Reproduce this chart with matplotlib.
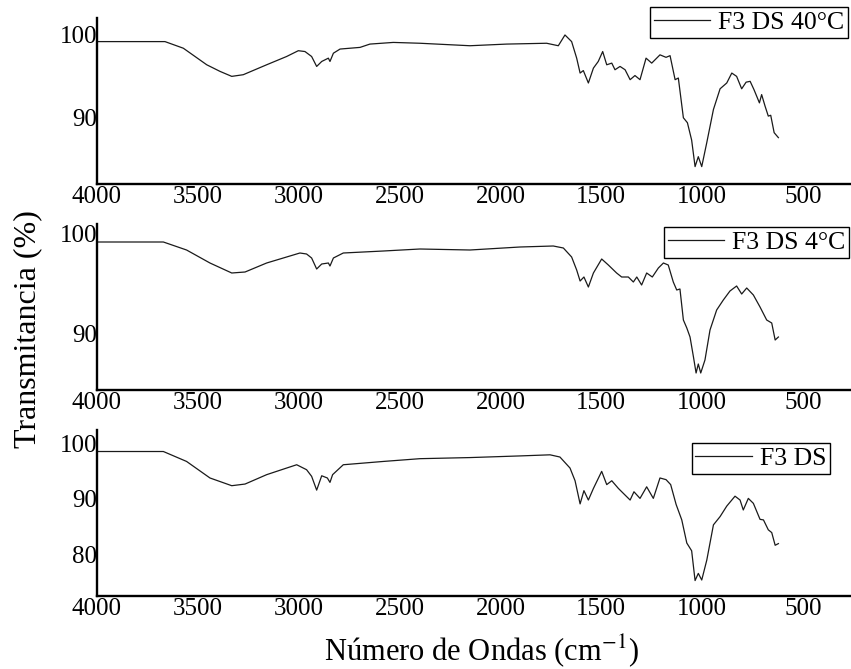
import matplotlib
matplotlib.use("Agg")
import matplotlib.pyplot as plt

plt.rcParams['font.family'] = ['Liberation Serif', 'DejaVu Serif']
plt.rcParams['mathtext.fontset'] = 'stix'

# F3 DS 40°C
wn_40 = [3993, 3663, 3572, 3456, 3390, 3332, 3275, 3159, 3060, 3002, 2969, 2936, 2911, 2886,
         2853, 2845, 2828, 2795, 2696, 2647, 2531, 2399, 2151, 1969, 1771, 1713, 1680, 1647,
         1622, 1605, 1589, 1564, 1539, 1515, 1493, 1473, 1448, 1432, 1407, 1382, 1357, 1333,
         1308, 1278, 1250, 1209, 1179, 1159, 1134, 1118, 1093, 1073, 1052, 1035, 1019, 1002,
         977, 944, 911, 878, 853, 829, 804, 782, 762, 743, 716, 705, 688, 672, 660, 643, 622]
t_40 = [99.2, 99.2, 98.4, 96.4, 95.6, 95.0, 95.2, 96.4, 97.4, 98.1, 98.0, 97.4, 96.2, 96.8,
        97.2, 96.8, 97.8, 98.3, 98.5, 98.9, 99.1, 99.0, 98.7, 98.9, 99.0, 98.7, 100.0, 99.2,
        97.2, 95.4, 95.7, 94.2, 96.0, 96.8, 98.0, 96.4, 96.6, 95.8, 96.2, 95.8, 94.6, 95.1,
        94.6, 97.2, 96.6, 97.6, 97.3, 97.5, 94.6, 94.8, 90.0, 89.4, 87.3, 84.1, 85.3, 84.1,
        87.0, 91.0, 93.5, 94.2, 95.4, 95.0, 93.5, 94.3, 94.4, 93.4, 91.8, 92.8, 91.4, 90.2,
        90.3, 88.2, 87.6]

# F3 DS 4°C
wn_4 = [3993, 3671, 3556, 3440, 3332, 3266, 3159, 3060, 2994, 2961, 2936, 2911, 2886, 2853,
        2845, 2828, 2779, 2580, 2399, 2151, 1903, 1738, 1688, 1647, 1622, 1605, 1586, 1564,
        1539, 1498, 1465, 1424, 1399, 1366, 1341, 1324, 1300, 1275, 1247, 1217, 1192, 1168,
        1143, 1126, 1110, 1093, 1076, 1060, 1043, 1030, 1019, 1007, 986, 961, 928, 895, 862,
        829, 804, 779, 746, 713, 680, 655, 638, 622]
t_4 = [99.1, 99.1, 98.3, 97.0, 96.0, 96.1, 97.0, 97.6, 98.0, 97.9, 97.5, 96.4, 96.9, 97.0,
       96.7, 97.5, 98.0, 98.2, 98.4, 98.3, 98.6, 98.7, 98.5, 97.6, 96.3, 95.2, 95.6, 94.6,
       96.0, 97.4, 96.8, 96.0, 95.6, 95.6, 95.1, 95.6, 94.8, 96.0, 95.6, 96.5, 97.0, 96.8,
       95.1, 94.3, 94.4, 91.3, 90.5, 89.6, 87.6, 86.0, 86.9, 86.0, 87.3, 90.3, 92.3, 93.3, 94.2,
       94.7, 93.9, 94.5, 93.8, 92.6, 91.3, 91.0, 89.3, 89.6]

# F3 DS
wn_ds = [3993, 3671, 3556, 3440, 3332, 3266, 3159, 3060, 3010, 2961, 2936, 2911, 2886, 2858,
         2845, 2832, 2779, 2580, 2399, 2151, 1903, 1754, 1705, 1655, 1630, 1605, 1586, 1564,
         1539, 1498, 1473, 1448, 1415, 1382, 1357, 1338, 1308, 1275, 1242, 1209, 1179, 1156,
         1129, 1101, 1076, 1052, 1035, 1019, 1002, 977, 944, 911, 878, 837, 812, 796, 771, 746,
         713, 696, 672, 655, 638, 622]
t_ds = [98.6, 98.6, 96.8, 93.8, 92.4, 92.7, 94.4, 95.6, 96.2, 95.3, 94.1, 91.6, 94.2, 93.8,
        93.0, 94.4, 96.2, 96.8, 97.3, 97.5, 97.8, 98.0, 97.6, 95.6, 93.3, 89.1, 91.5, 89.8,
        91.9, 95.0, 92.6, 93.3, 91.9, 90.7, 89.8, 91.3, 90.1, 92.2, 90.1, 93.8, 93.5, 92.6,
        89.0, 86.2, 82.0, 80.6, 75.2, 76.5, 75.3, 78.9, 85.3, 86.8, 88.7, 90.5, 89.8, 88.0, 90.1,
        89.2, 86.3, 86.2, 84.4, 83.9, 81.6, 81.9]

labels = ['F3 DS 40°C', 'F3 DS 4°C', 'F3 DS']
series = [(wn_40, t_40), (wn_4, t_4), (wn_ds, t_ds)]
ylims = [(82, 102.05), (84.3, 100.9), (72.4, 102.5)]
yticks = [[90, 100], [90, 100], [80, 90, 100]]
xticks = [4000, 3500, 3000, 2500, 2000, 1500, 1000, 500]

W, H = 851, 669
fig = plt.figure(figsize=(W / 100, H / 100), dpi=100)

# panel tops/bottoms in pixels, legend upper-right corners in pixels
panels = [(18, 184), (224, 390), (430, 596)]
legend_corners = [(848, 7), (849, 227), (830, 443)]

for i in range(3):
    top, bottom = panels[i]
    ax = fig.add_axes([97 / W, 1 - bottom / H, 1 - 97 / W, (bottom - top) / H])
    wn, t = series[i]
    ax.plot(wn, t, color='#1a1a1a', lw=0.9, label=labels[i])
    ax.set_xlim(4000, 262)
    ax.set_ylim(*ylims[i])
    ax.set_xticks(xticks)
    ax.set_yticks(yticks[i])
    ax.spines['top'].set_visible(False)
    ax.spines['right'].set_visible(False)
    for s in ('left', 'bottom'):
        ax.spines[s].set_linewidth(1.7)
    ax.tick_params(axis='both', length=0, labelsize=18)
    ax.tick_params(axis='y', pad=0)
    ax.tick_params(axis='x', pad=1.5)
    cx, cy = legend_corners[i]
    leg = ax.legend(loc='upper right', bbox_to_anchor=(cx / W, 1 - cy / H),
                    bbox_transform=fig.transFigure, borderaxespad=0,
                    fontsize=18.5, frameon=True, fancybox=False, framealpha=1,
                    edgecolor='black', borderpad=0.15, handlelength=2.2,
                    handletextpad=0.3)
    leg.get_frame().set_linewidth(1.0)

fig.text(28 / W, 1 - 329 / H, 'Transmitancia (%)', rotation=90, fontsize=23,
         ha='center', va='center')
fig.text(481 / W, 1 - 651 / H, 'Número de Ondas (cm$^{-1}$)', fontsize=22,
         ha='center', va='center')

fig.savefig('out.png', dpi=100)
